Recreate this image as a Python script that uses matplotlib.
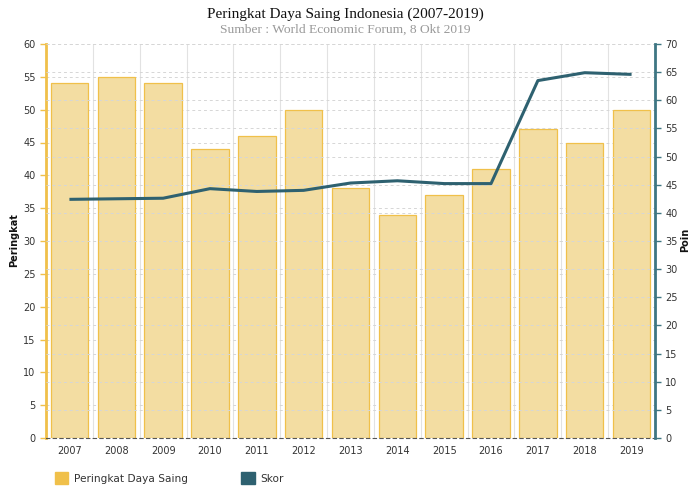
import numpy as np
import matplotlib
matplotlib.use("Agg")
import matplotlib.pyplot as plt
from matplotlib.patches import Patch

# data
years = ["2007", "2008", "2009", "2010", "2011", "2012", "2013",
         "2014", "2015", "2016", "2017", "2018", "2019"]
peringkat = [54, 55, 54, 44, 46, 50, 38, 34, 37, 41, 47, 45, 50]
skor = [42.4, 42.5, 42.6, 44.3, 43.8, 44.0, 45.3, 45.7, 45.2, 45.2, 63.5, 64.9, 64.6]

GOLD = "#F0C04A"
BAR_FILL = "#F3DDA2"
TEAL = "#2E6170"
TEAL_AX = "#3E7683"
GRID = "#D6D6D6"

plt.rcParams["font.family"] = "DejaVu Sans"

fig = plt.figure(figsize=(6.9, 4.88), dpi=100)
ax = fig.add_axes([46 / 690, 50 / 488, 609 / 690, 394 / 488])
ax2 = ax.twinx()

x = np.arange(len(years))
ax.bar(x, peringkat, width=0.8, color=BAR_FILL, edgecolor=GOLD, linewidth=0.9, zorder=2)
ax2.plot(x, skor, color=TEAL, lw=2.2, zorder=3, solid_capstyle="butt")

ax.set_xlim(-0.5, len(years) - 0.5)
ax.set_ylim(0, 60)
ax2.set_ylim(0, 70)
ax.set_yticks(np.arange(0, 61, 5))
ax2.set_yticks(np.arange(0, 71, 5))
ax.set_xticks(x)
ax.set_xticklabels(years)
ax.set_xticks(np.arange(-0.5, len(years)), minor=True)

# grids
ax.grid(axis="y", color=GRID, ls=(0, (3, 3)), lw=0.7, zorder=0)
ax2.grid(axis="y", color=GRID, ls=(0, (3, 3)), lw=0.7, zorder=0)
ax.grid(axis="x", which="minor", color="#E2E2E2", ls="-", lw=0.8, zorder=0)
ax.set_axisbelow(True)
ax2.set_axisbelow(True)

# spines
ax.spines["top"].set_visible(False)
ax2.spines["top"].set_visible(False)
ax2.spines["left"].set_visible(False)
ax2.spines["bottom"].set_visible(False)
ax.spines["right"].set_visible(False)
ax.spines["left"].set_color(GOLD)
ax.spines["left"].set_linewidth(2)
ax2.spines["right"].set_color(TEAL_AX)
ax2.spines["right"].set_linewidth(2)
ax.spines["bottom"].set_color("#555555")
ax.spines["bottom"].set_linestyle((0, (3, 3)))
ax.spines["bottom"].set_linewidth(0.8)

ax.tick_params(axis="y", colors=GOLD, labelcolor="#333333", labelsize=7, length=4, width=1)
ax2.tick_params(axis="y", colors=TEAL_AX, labelcolor="#333333", labelsize=7, length=4, width=1)
ax.tick_params(axis="x", which="both", length=0, labelsize=7, labelcolor="#333333", pad=6)

fig.text(14 / 690, 1 - 240 / 488, "Peringkat", rotation=90, ha="center", va="center",
         fontsize=7, fontweight="bold", color="#111111")
fig.text(680 / 690, 1 - 240 / 488, "Poin", rotation=90, ha="left", va="center",
         fontsize=7, fontweight="bold", color="#111111")

fig.text(0.5, 1 - 14 / 488, "Peringkat Daya Saing Indonesia (2007-2019)", ha="center",
         va="center", fontsize=11, family="Liberation Serif", color="#111111")
fig.text(0.5, 1 - 30 / 488, "Sumber : World Economic Forum, 8 Okt 2019", ha="center",
         va="center", fontsize=9.7, family="Liberation Serif", color="#999999")

handles = [Patch(facecolor=GOLD, edgecolor=GOLD), Patch(facecolor=TEAL, edgecolor=TEAL)]
fig.legend(handles, ["Peringkat Daya Saing", "Skor"], loc="center left",
           bbox_to_anchor=(45 / 690, 1 - 478 / 488), ncol=2, frameon=False,
           fontsize=7.6, handlelength=1.3, handleheight=1.3, columnspacing=5.0,
           handletextpad=0.55, labelcolor="#333333")

fig.savefig("out.png", dpi=100, facecolor="white")
